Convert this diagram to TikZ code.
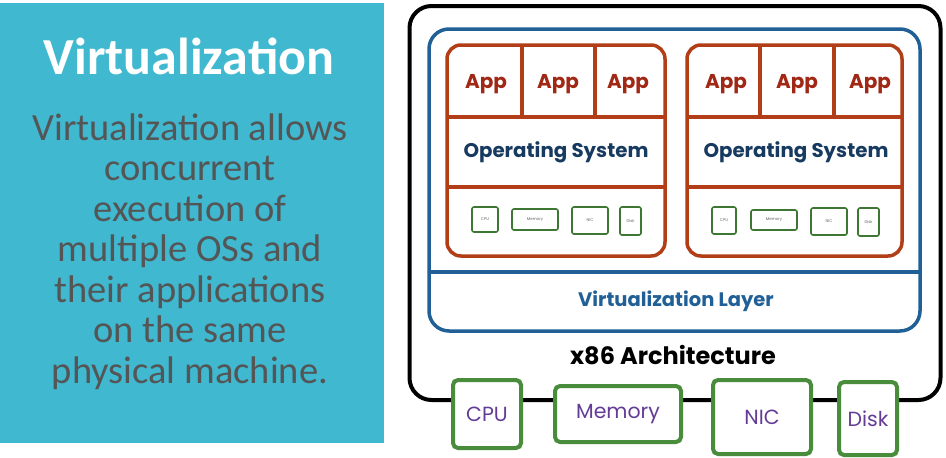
\documentclass[tikz,border=0pt]{standalone}
\usepackage{fontspec}
\setmainfont{Carlito}
\newfontfamily\pop{Poppins}
\definecolor{panelc}{RGB}{63,184,208}
\definecolor{txtgrey}{RGB}{85,85,85}
\definecolor{vmred}{RGB}{178,62,24}
\definecolor{apptxt}{RGB}{160,40,20}
\definecolor{osnavy}{RGB}{22,58,96}
\definecolor{vlblue}{RGB}{32,96,150}
\definecolor{hwgreen}{RGB}{72,140,60}
\definecolor{hwpurple}{RGB}{100,60,150}
\begin{document}
\begin{tikzpicture}[x=1pt,y=-1pt,
  box/.style={draw,inner sep=0pt,outer sep=0pt},
  machinebox/.style={box,line width=4pt,rounded corners=22pt,draw=black},
  vlbox/.style={box,line width=3.5pt,rounded corners=20pt,draw=vlblue},
  vmbox/.style={box,line width=3.5pt,rounded corners=14pt,draw=vmred},
  redline/.style={line width=3.5pt,draw=vmred},
  devbox/.style={box,line width=1.6pt,rounded corners=2pt,draw=hwgreen!85!black,fill=white,font=\pop\fontsize{4}{4}\selectfont,text=gray!80!black},
  hwbox/.style={box,line width=4pt,rounded corners=5pt,draw=hwgreen,fill=white,font=\pop\fontsize{20.5}{20.5}\selectfont,text=hwpurple},
  apptext/.style={font=\pop\bfseries\fontsize{20}{20}\selectfont,text=apptxt},
  ostext/.style={font=\pop\bfseries\fontsize{19.8}{19.8}\selectfont,text=osnavy},
]
\useasboundingbox (0,0) rectangle (946,458);
\fill[white] (0,0) rectangle (946,458);
% left panel
\node[inner sep=0pt,fill=panelc,minimum width=384pt,minimum height=440pt] (panel) at (192,223) {};
\node[font=\bfseries\fontsize{52}{52}\selectfont,text=white,anchor=base] (title) at (189,74) {Virtualization};
\node[font=\fontsize{38.5}{40.5}\selectfont,text=txtgrey,align=center,anchor=north] (body) at (190,110)
 {Virtualization allows\\concurrent\\execution of\\multiple OSs and\\their applications\\on the same\\physical machine.};
% machine
\node[machinebox,minimum width=531pt,minimum height=394pt] (machine) at (675,203) {};
\node[vlbox,minimum width=491pt,minimum height=302pt] (vlayer) at (674.5,180) {};
\coordinate (vlL) at (429,272);
\coordinate (vlR) at (920,272);
\draw[line width=3.5pt,vlblue] (vlL) -- (vlR);
\node[font=\pop\bfseries\fontsize{19.5}{19.5}\selectfont,text=vlblue] (vltext) at (676,301) {Virtualization Layer};
\node[font=\pop\bfseries\fontsize{24}{24}\selectfont,text=black] (x86) at (673,355) {x86 Architecture};
% VM 1
\node[vmbox,minimum width=218pt,minimum height=211pt] (vmA) at (556,150.5) {};
\coordinate (a1) at (447,117); \coordinate (a2) at (665,117);
\coordinate (a3) at (447,187); \coordinate (a4) at (665,187);
\coordinate (a5) at (522,45); \coordinate (a6) at (522,117);
\coordinate (a7) at (595,45); \coordinate (a8) at (595,117);
\draw[redline] (a1) -- (a2); \draw[redline] (a3) -- (a4);
\draw[redline] (a5) -- (a6); \draw[redline] (a7) -- (a8);
\node[apptext] (appA1) at (486,84) {App};
\node[apptext] (appA2) at (558,84) {App};
\node[apptext] (appA3) at (628,84) {App};
\node[ostext] (osA) at (556,152) {Operating System};
\node[devbox,minimum width=26pt,minimum height=25pt] (cpuA) at (485,219.5) {CPU};
\node[devbox,minimum width=46pt,minimum height=21pt] (memA) at (535,219.5) {Memory};
\node[devbox,minimum width=36pt,minimum height=27pt] (nicA) at (590,220.5) {NIC};
\node[devbox,minimum width=21pt,minimum height=28pt] (diskA) at (630.5,221) {Disk};
% VM 2
\node[vmbox,minimum width=215pt,minimum height=211pt] (vmB) at (794.5,150.5) {};
\coordinate (b1) at (687,117); \coordinate (b2) at (902,117);
\coordinate (b3) at (687,187); \coordinate (b4) at (902,187);
\coordinate (b5) at (760,45); \coordinate (b6) at (760,117);
\coordinate (b7) at (834,45); \coordinate (b8) at (834,117);
\draw[redline] (b1) -- (b2); \draw[redline] (b3) -- (b4);
\draw[redline] (b5) -- (b6); \draw[redline] (b7) -- (b8);
\node[apptext] (appB1) at (726,84) {App};
\node[apptext] (appB2) at (797,84) {App};
\node[apptext] (appB3) at (870,84) {App};
\node[ostext] (osB) at (796,152) {Operating System};
\node[devbox,minimum width=24pt,minimum height=27pt] (cpuB) at (724,220.5) {CPU};
\node[devbox,minimum width=46pt,minimum height=20pt] (memB) at (774,220) {Memory};
\node[devbox,minimum width=36pt,minimum height=27pt] (nicB) at (829,221.5) {NIC};
\node[devbox,minimum width=21pt,minimum height=28pt] (diskB) at (868.5,222) {Disk};
% hardware
\node[hwbox,minimum width=68pt,minimum height=68pt] (cpu) at (487,414) {CPU};
\node[hwbox,minimum width=126pt,minimum height=56pt] (mem) at (618,414) {Memory};
\node[hwbox,minimum width=98pt,minimum height=74pt] (nic) at (762,417) {NIC};
\node[hwbox,minimum width=58pt,minimum height=73pt] (disk) at (868,418.5) {Disk};
\end{tikzpicture}
\end{document}
